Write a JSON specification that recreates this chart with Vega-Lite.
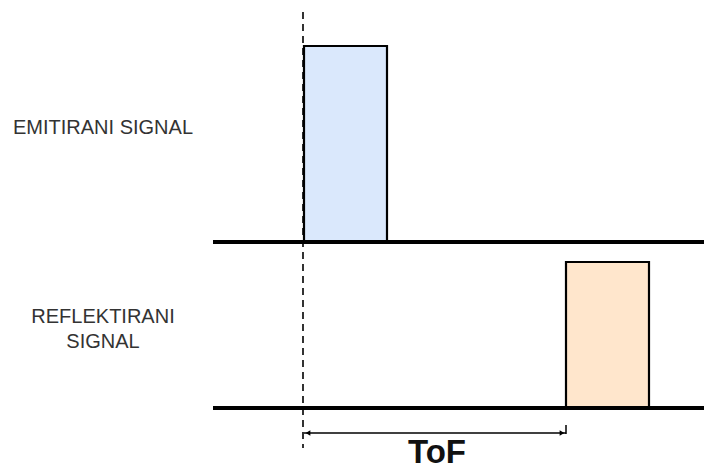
{
  "$schema": "https://vega.github.io/schema/vega-lite/v6.json",
  "width": 704,
  "height": 470,
  "autosize": {"type": "none"},
  "padding": 0,
  "background": "white",
  "config": {"view": {"stroke": null}},
  "datasets": {
    "pulses": [
      {"signal": "emitirani", "t0": 304, "t1": 387, "a0": 242, "a1": 46},
      {"signal": "reflektirani", "t0": 566, "t1": 649, "a0": 408, "a1": 262}
    ],
    "baselines": [
      {"t0": 213, "t1": 704, "a": 242},
      {"t0": 213, "t1": 704, "a": 408}
    ],
    "marker": [{"t": 303, "a0": 12, "a1": 448}],
    "tof": [{"t0": 304, "t1": 566, "a": 433}],
    "tick": [{"t": 566, "a0": 425, "a1": 434}],
    "heads": [
      {"t": 308, "a": 433, "dir": "left"},
      {"t": 562, "a": 433, "dir": "right"}
    ],
    "labels": [
      {"t": 103, "a": 133.5, "text": "EMITIRANI SIGNAL"},
      {"t": 103, "a": 323, "text": "REFLEKTIRANI"},
      {"t": 103, "a": 348, "text": "SIGNAL"}
    ],
    "tofLabel": [{"t": 437, "a": 453, "text": "ToF"}]
  },
  "layer": [
    {
      "data": {"name": "marker"},
      "mark": {"type": "rule", "color": "black", "strokeWidth": 1.6, "strokeDash": [7, 5]},
      "encoding": {
        "x": {"field": "t", "type": "quantitative", "scale": {"domain": [0, 704], "nice": false, "zero": false}, "axis": null},
        "y": {"field": "a0", "type": "quantitative", "scale": {"domain": [470, 0], "nice": false, "zero": false}, "axis": null},
        "y2": {"field": "a1"}
      }
    },
    {
      "data": {"name": "pulses"},
      "mark": {"type": "rect", "stroke": "black", "strokeWidth": 2.2},
      "encoding": {
        "x": {"field": "t0", "type": "quantitative"},
        "x2": {"field": "t1"},
        "y": {"field": "a0", "type": "quantitative"},
        "y2": {"field": "a1"},
        "fill": {"field": "signal", "type": "nominal", "scale": {"domain": ["emitirani", "reflektirani"], "range": ["#dae8fc", "#ffe6cc"]}, "legend": null}
      }
    },
    {
      "data": {"name": "baselines"},
      "mark": {"type": "rule", "color": "black", "strokeWidth": 4},
      "encoding": {
        "x": {"field": "t0", "type": "quantitative"},
        "x2": {"field": "t1"},
        "y": {"field": "a", "type": "quantitative"}
      }
    },
    {
      "data": {"name": "tof"},
      "mark": {"type": "rule", "color": "black", "strokeWidth": 1.3},
      "encoding": {
        "x": {"field": "t0", "type": "quantitative"},
        "x2": {"field": "t1"},
        "y": {"field": "a", "type": "quantitative"}
      }
    },
    {
      "data": {"name": "tick"},
      "mark": {"type": "rule", "color": "black", "strokeWidth": 1.5},
      "encoding": {
        "x": {"field": "t", "type": "quantitative"},
        "y": {"field": "a0", "type": "quantitative"},
        "y2": {"field": "a1"}
      }
    },
    {
      "data": {"name": "heads"},
      "mark": {"type": "point", "filled": true, "color": "black", "opacity": 1, "size": 30},
      "encoding": {
        "x": {"field": "t", "type": "quantitative"},
        "y": {"field": "a", "type": "quantitative"},
        "shape": {"field": "dir", "type": "nominal", "scale": {"domain": ["left", "right"], "range": ["triangle-left", "triangle-right"]}, "legend": null}
      }
    },
    {
      "data": {"name": "labels"},
      "mark": {"type": "text", "font": "Liberation Sans", "fontSize": 20, "color": "#333333", "align": "center", "baseline": "alphabetic"},
      "encoding": {
        "x": {"field": "t", "type": "quantitative"},
        "y": {"field": "a", "type": "quantitative"},
        "text": {"field": "text", "type": "nominal"}
      }
    },
    {
      "data": {"name": "tofLabel"},
      "mark": {"type": "text", "font": "Liberation Sans", "fontSize": 33, "fontWeight": "bold", "color": "#111111", "align": "center", "baseline": "middle"},
      "encoding": {
        "x": {"field": "t", "type": "quantitative"},
        "y": {"field": "a", "type": "quantitative"},
        "text": {"field": "text", "type": "nominal"}
      }
    }
  ]
}
